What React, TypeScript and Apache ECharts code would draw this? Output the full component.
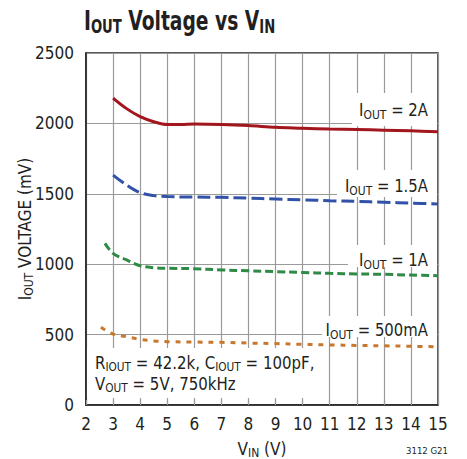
import React, { useEffect, useRef } from "react";
import * as echarts from "echarts";

const FONT = "'Liberation Sans Narrow', 'DejaVu Sans Condensed', 'Arial Narrow', sans-serif";
const INK = "#231f20";

const xTicks = [2, 3, 4, 5, 6, 7, 8, 9, 10, 11, 12, 13, 14, 15];
const yTicks = [0, 500, 1000, 1500, 2000, 2500];

const vin2A = [3, 3.5, 4, 4.5, 5, 5.5, 6, 7, 8, 9, 10, 11, 12, 13, 14, 15];
const iout2A = [2180, 2105, 2048, 2012, 1992, 1992, 1996, 1993, 1985, 1972, 1966, 1960, 1956, 1952, 1947, 1941];

const vin1p5A = [3, 3.5, 4, 4.5, 5, 6, 7, 8, 9, 10, 11, 12, 13, 14, 15];
const iout1p5A = [1633, 1562, 1508, 1487, 1480, 1477, 1475, 1469, 1463, 1457, 1451, 1446, 1440, 1434, 1428];

const vin1A = [2.7, 3, 3.5, 4, 4.5, 5, 6, 7, 8, 9, 10, 11, 12, 13, 14, 15];
const iout1A = [1148, 1077, 1030, 989, 975, 971, 968, 959, 953, 947, 941, 935, 931, 928, 923, 918];

const vin500mA = [2.55, 3, 3.5, 4, 4.5, 5, 6, 7, 8, 9, 10, 11, 12, 13, 14, 15];
const iout500mA = [552, 504, 485, 466, 455, 450, 447, 445, 440, 436, 431, 427, 423, 420, 417, 414];

const pairs = (xs: number[], ys: number[]) => xs.map((x, i) => [x, ys[i]]);

const sub = (size: number, pad: number) => ({
  fontFamily: FONT,
  fontSize: size,
  color: INK,
  padding: [pad, 0, 0, 0],
});
const main = (size: number, weight: string = "normal") => ({
  fontFamily: FONT,
  fontSize: size,
  color: INK,
  fontWeight: weight,
});

const labelRich = { m: main(18), s: sub(13, 9) };

export default function App() {
  const ref = useRef<HTMLDivElement>(null);
  useEffect(() => {
    if (!ref.current) return;
    const chart = echarts.init(ref.current, undefined, { renderer: "svg" });
    const mkLine = (name: string, xs: number[], ys: number[], color: string, type: any) => ({
      name,
      type: "line",
      data: pairs(xs, ys),
      smooth: 0.35,
      showSymbol: false,
      symbol: "none",
      z: 2,
      lineStyle: { color, width: 3, type, cap: "butt" },
    });
    const labelText = (txt: string, y: number) => ({
      type: "text",
      x: 428,
      y,
      scaleX: 0.92,
      z: 3,
      style: {
        text: txt,
        rich: labelRich,
        fill: INK,
        align: "right",
        verticalAlign: "middle",
      },
    });
    const whiteRect = (x: number, y: number, w: number, h: number) => ({
      type: "rect",
      shape: { x, y, width: w, height: h },
      z: 1,
      style: { fill: "#ffffff" },
    });
    chart.setOption({
      animation: false,
      backgroundColor: "#ffffff",
      grid: {
        left: 86,
        right: 29,
        top: 53,
        bottom: 54,
        containLabel: false,
        outerBoundsMode: "none",
        show: true,
        borderColor: INK,
        borderWidth: 1.5,
        backgroundColor: "transparent",
      },
      xAxis: {
        type: "value",
        min: 2,
        max: 15,
        interval: 1,
        name: "{m|V}{s|IN}{m| (V)}",
        nameLocation: "middle",
        nameGap: 33,
        nameMoveOverlap: false,
        nameTextStyle: {
          rich: { m: main(17), s: sub(12, 9) },
        },
        axisLine: { show: true, lineStyle: { color: INK, width: 1.5 } },
        axisTick: { show: true, inside: true, length: 5, lineStyle: { color: "#9a9a9a", width: 1.2 } },
        axisLabel: {
          fontFamily: FONT,
          fontSize: 17,
          color: INK,
          margin: 10,
          formatter: (v: number) => (xTicks.includes(v) ? String(v) : ""),
        },
        splitLine: { show: true, lineStyle: { color: "#9a9a9a", width: 1.2 } },
      },
      yAxis: {
        type: "value",
        min: 0,
        max: 2500,
        interval: 500,
        name: "{m|I}{s|OUT}{m| VOLTAGE (mV)}",
        nameLocation: "middle",
        nameGap: 51,
        nameMoveOverlap: false,
        nameTextStyle: {
          rich: { m: main(17), s: sub(12, 9) },
        },
        axisLine: { show: true, lineStyle: { color: INK, width: 1.5 } },
        axisTick: { show: false },
        axisLabel: {
          fontFamily: FONT,
          fontSize: 17,
          color: INK,
          margin: 12,
          formatter: (v: number) => (yTicks.includes(v) ? String(v) : ""),
        },
        splitLine: { show: true, lineStyle: { color: "#9a9a9a", width: 1.2 } },
      },
      series: [
        mkLine("2A", vin2A, iout2A, "#a3161e", "solid"),
        mkLine("1.5A", vin1p5A, iout1p5A, "#3152a8", [13, 5]),
        mkLine("1A", vin1A, iout1A, "#2f8a45", [8, 4]),
        mkLine("500mA", vin500mA, iout500mA, "#c8782e", [5, 6]),
      ],
      graphic: {
        elements: [
          whiteRect(352, 93, 85, 33),
          whiteRect(337, 170, 100, 27),
          whiteRect(348, 245, 89, 22),
          whiteRect(322, 316, 115, 21),
          whiteRect(87, 348, 231, 50),
          labelText("{m|I}{s|OUT}{m| = 2A}", 110),
          labelText("{m|I}{s|OUT}{m| = 1.5A}", 186),
          labelText("{m|I}{s|OUT}{m| = 1A}", 260),
          labelText("{m|I}{s|OUT}{m| = 500mA}", 330),
          {
            type: "text",
            x: 95,
            y: 352,
            scaleX: 0.98,
            z: 3,
            style: {
              text: "{m|R}{s|IOUT}{m| = 42.2k, C}{s|IOUT}{m| = 100pF,}\n{m|V}{s|OUT}{m| = 5V, 750kHz}",
              rich: { m: { ...main(17), lineHeight: 21 }, s: { ...sub(12, 9), lineHeight: 21 } },
              fill: INK,
            },
          },
          {
            type: "text",
            x: 84,
            y: 7,
            scaleX: 0.77,
            z: 3,
            style: {
              text: "{m|I}{s|OUT}{m| Voltage vs V}{s|IN}",
              rich: {
                m: main(27, "bold"),
                s: { ...sub(19, 10), fontWeight: "bold" },
              },
              fill: INK,
            },
          },
          {
            type: "text",
            x: 448,
            y: 450,
            z: 3,
            style: {
              text: "3112 G21",
              font: `9.5px ${FONT}`,
              fill: INK,
              align: "right",
              verticalAlign: "middle",
            },
          },
        ],
      },
    });
    return () => chart.dispose();
  }, []);
  return (
    <div
      ref={ref}
      style={{ position: "fixed", left: 0, top: 0, width: 467, height: 459, background: "#fff" }}
    />
  );
}
